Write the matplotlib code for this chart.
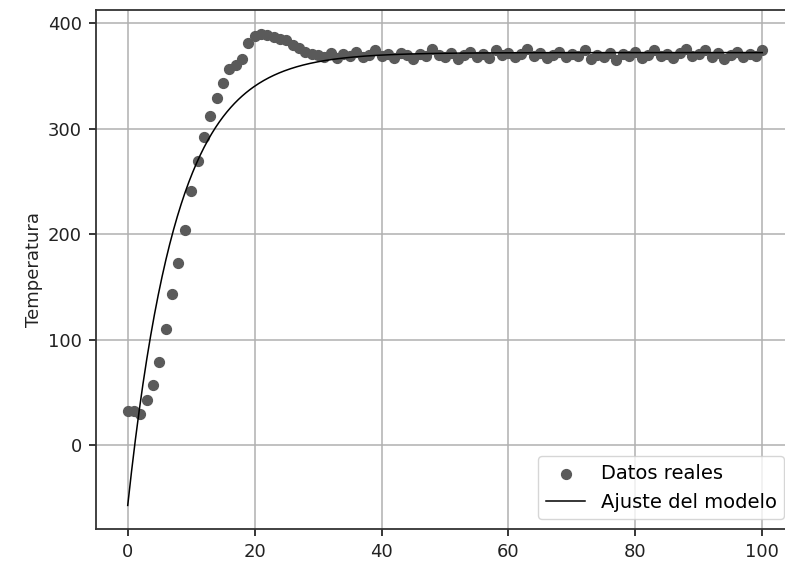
import numpy as np
import matplotlib.pyplot as plt

# Datos medidos (tiempo, temperatura)
tiempo = np.arange(0, 101)
temperatura = np.array([
    32, 32, 30, 43, 57, 79, 110, 143, 173, 204,
    241, 269, 292, 312, 329, 343, 356, 360, 366, 381,
    388, 390, 389, 387, 385, 384, 379, 376, 373, 371,
    370, 368, 372, 367, 371, 369, 373, 368, 370, 374,
    369, 371, 367, 372, 370, 366, 371, 369, 375, 370,
    368, 372, 366, 370, 373, 368, 371, 367, 374, 370,
    372, 368, 371, 375, 369, 372, 367, 370, 373, 368,
    371, 369, 374, 366, 370, 368, 372, 365, 371, 369,
    373, 367, 370, 374, 369, 371, 367, 372, 375, 369,
    371, 374, 368, 372, 366, 370, 373, 368, 371, 369,
    374,
])

# Parametros del modelo ajustado: T = A - B*exp(-k t)
A = 372.0
B = 429.0
k = 0.13

t_modelo = np.linspace(0, 100, 500)
T_modelo = A - B * np.exp(-k * t_modelo)

fig = plt.figure(figsize=(7.85, 5.61), dpi=100)
ax = fig.add_axes([96 / 785, 1 - 529 / 561, 698 / 785, 519 / 561])

ax.scatter(tiempo, temperatura, s=50, color='#5a5a5a', label='Datos reales', zorder=3)
ax.plot(t_modelo, T_modelo, color='black', lw=1.1, label='Ajuste del modelo', zorder=4)

ax.set_ylabel('Temperatura', fontsize=13, color='#222222')
ax.tick_params(labelsize=13, width=1.1, length=5, pad=5, labelcolor='#222222')
ax.set_xticks([0, 20, 40, 60, 80, 100])
ax.set_yticks([0, 100, 200, 300, 400])
ax.grid(True, lw=1.1, color='#b0b0b0')
for sp in ax.spines.values():
    sp.set_linewidth(1.3)
    sp.set_color('#333333')
ax.legend(loc='lower right', fontsize=14)

fig.savefig('out.png', dpi=100)
